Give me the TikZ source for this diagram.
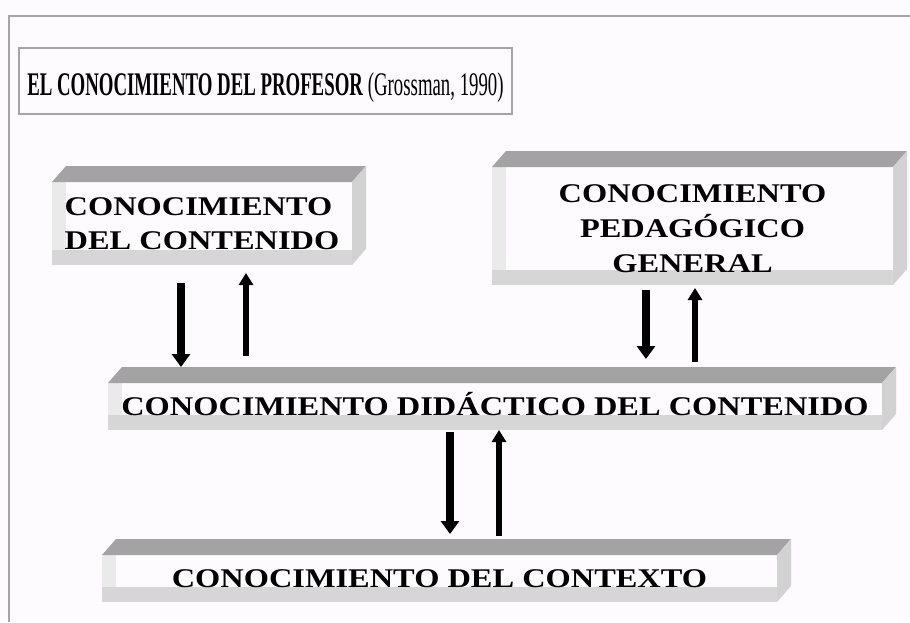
\documentclass[tikz,border=0pt]{standalone}
\usepackage{fontspec}
\usetikzlibrary{arrows.meta, backgrounds}
\setmainfont{Liberation Serif}
\newfontfamily\titlefont{Liberation Serif}[FakeStretch=0.57]
\newfontfamily\slabfont{Liberation Serif}[FakeStretch=1.2]
\definecolor{paper}{RGB}{253,251,253}
\definecolor{topgray}{RGB}{163,163,163}
\definecolor{sidegray}{RGB}{210,210,210}
\definecolor{stripgray}{RGB}{214,214,214}
\definecolor{leftgray}{RGB}{234,234,234}
\definecolor{framegray}{RGB}{165,165,165}

% 3D faces round a box node (front face = the node)
\newcommand\slabdeco[1]{%
	\fill[paper] (#1.north west) rectangle (#1.south east);
	\fill[leftgray] (#1.north west) rectangle ([xshift=14pt]#1.south west);
	\fill[stripgray] (#1.south west) rectangle ([yshift=15pt]#1.south east);
	\fill[topgray] (#1.north west) -- ++(\dx,\dy) -- ([shift={(\dx,\dy)}]#1.north east) -- (#1.north east) -- cycle;
	\fill[sidegray] (#1.north east) -- ++(\dx,\dy) -- ([shift={(\dx,\dy)}]#1.south east) -- (#1.south east) -- cycle;
	\coordinate (#1 top) at ([shift={(0,\dy)}]#1.north);
}

\begin{document}
\begin{tikzpicture}[x=1pt, y=-1pt,
	slab/.style={inner sep=0pt, outer sep=0pt, align=center,
		font=\slabfont\bfseries\fontsize{27}{34}\selectfont},
	dn/.style={line width=8pt, -{Triangle[width=18pt,length=13pt]}},
	up/.style={line width=6pt, -{Triangle[width=14pt,length=12pt]}}]
	\def \dx{14} % depth of the boxes
	\def \dy{-16}
	\useasboundingbox (0,0) rectangle (910,622);
	\begin{scope}[on background layer]
		\fill[paper] (0,0) rectangle (910,622);
	\end{scope}
	\draw[framegray, line width=2pt] (9,622) -- (9,16) -- (910,16);
	%title
	\node[draw=framegray, line width=1.2pt, minimum width=493pt, minimum height=66pt,
		text height=28pt, text depth=0pt, font=\titlefont\fontsize{33}{33}\selectfont]
		(title) at (265.5,81) {\textbf{EL CONOCIMIENTO DEL PROFESOR} (Grossman, 1990)};
	%boxes
	\node[slab, align=left, minimum width=300pt, minimum height=83pt] (cont) at (202,223.5) {CONOCIMIENTO\\DEL CONTENIDO};
	\node[slab, minimum width=401pt, minimum height=118pt, font=\slabfont\bfseries\fontsize{27}{35}\selectfont] (pedag) at (692.5,226) {\rule{0pt}{24pt}CONOCIMIENTO\\PEDAG\'OGICO\\GENERAL};
	\node[slab, minimum width=774pt, minimum height=47pt, text height=18pt, text depth=0pt] (didac) at (495,406.5) {CONOCIMIENTO DID\'ACTICO DEL CONTENIDO};
	\node[slab, minimum width=675pt, minimum height=47pt, text height=18pt, text depth=0pt] (contx) at (439.5,578.5) {CONOCIMIENTO DEL CONTEXTO};
	\begin{scope}[on background layer]
		\slabdeco{cont}
		\slabdeco{pedag}
		\slabdeco{didac}
		\slabdeco{contx}
	\end{scope}
	%arrow columns
	\coordinate (colA) at (181,0);
	\coordinate (colB) at (246,0);
	\coordinate (colC) at (646,0);
	\coordinate (colD) at (695,0);
	\coordinate (colE) at (450,0);
	\coordinate (colF) at (499,0);
	%making arrows
	\draw[dn, shorten <=18pt] (cont.south -| colA) -- (didac top -| colA);
	\draw[up, shorten <=11pt, shorten >=8pt] (didac top -| colB) -- (cont.south -| colB);
	\draw[dn, shorten <=5pt, shorten >=8pt] (pedag.south -| colC) -- (didac top -| colC);
	\draw[up, shorten <=5pt, shorten >=3pt] (didac top -| colD) -- (pedag.south -| colD);
	\draw[dn, shorten <=2pt, shorten >=5pt] (didac.south -| colE) -- (contx top -| colE);
	\draw[up, shorten <=3pt] (contx top -| colF) -- (didac.south -| colF);
\end{tikzpicture}
\end{document}
